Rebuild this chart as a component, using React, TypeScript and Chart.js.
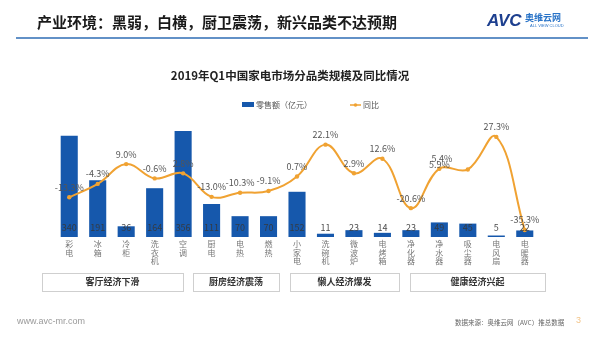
import React, { useEffect, useRef } from "react";
import { Chart, registerables } from "chart.js";

Chart.register(...registerables);

const categories = ["彩电", "冰箱", "冷柜", "洗衣机", "空调", "厨电", "电热", "燃热", "小家电", "洗碗机", "微波炉", "电烤箱", "净化器", "净水器", "吸尘器", "电风扇", "电暖器"];
const salesValues = [340, 191, 36, 164, 356, 111, 70, 70, 152, 11, 23, 14, 23, 49, 45, 5, 22];
const yoyValues = [-13.3, -4.3, 9.0, -0.6, 2.8, -13.0, -10.3, -9.1, 0.7, 22.1, 2.9, 12.6, -20.6, 5.9, 5.4, 27.3, -35.3];
const groupLabels = ["客厅经济下滑", "厨房经济震荡", "懒人经济爆发", "健康经济兴起"];

const BAR_COLOR = "#1658AC";
const LINE_COLOR = "#F0A232";
const CJK = '"Noto Sans CJK SC", "Noto Sans", sans-serif';
// label nudges for overlapping line labels (style only)
const LABEL_NUDGE: Record<number, [number, number]> = { 13: [0, 6], 14: [-26, -1] };
// group box extents (x px) — layout
const GROUP_BOXES: [number, number][] = [[42, 183], [193, 279], [290, 399], [410, 545]];

const decor = {
  id: "decor",
  beforeDraw(chart: any) {
    const ctx = chart.ctx;
    ctx.save();
    ctx.fillStyle = "#ffffff";
    ctx.fillRect(0, 0, chart.width, chart.height);
    ctx.restore();
  },
  afterDatasetsDraw(chart: any) {
    const ctx = chart.ctx;
    const x = chart.scales.x;
    const y = chart.scales.y;
    const base = y.getPixelForValue(0);
    ctx.save();
    ctx.textAlign = "center";
    ctx.textBaseline = "middle";
    // bar value labels
    ctx.font = `9px ${CJK}`;
    ctx.fillStyle = "rgba(55,55,55,0.9)";
    salesValues.forEach((v, i) => {
      ctx.fillText(String(v), x.getPixelForValue(i), base - 9);
    });
    // line labels
    const meta = chart.getDatasetMeta(1);
    ctx.fillStyle = "#555555";
    meta.data.forEach((pt: any, i: number) => {
      const n = LABEL_NUDGE[i] || [0, 0];
      ctx.fillText(yoyValues[i].toFixed(1) + "%", pt.x + n[0], pt.y - 10 + n[1]);
    });
    // category labels (vertical)
    ctx.font = `8px ${CJK}`;
    ctx.fillStyle = "#777777";
    categories.forEach((c, i) => {
      const cx = x.getPixelForValue(i);
      [...c].forEach((ch, k) => ctx.fillText(ch, cx, 244 + k * 8.6));
    });
    ctx.restore();
  },
  afterDraw(chart: any) {
    const ctx = chart.ctx;
    ctx.save();
    ctx.textBaseline = "middle";
    // page title
    ctx.fillStyle = "#1a1a1a";
    ctx.font = `bold 15px ${CJK}`;
    ctx.textAlign = "left";
    ctx.fillText("产业环境：黑弱，白横，厨卫震荡，新兴品类不达预期", 37, 22);
    // rule
    ctx.strokeStyle = "#2E6DB4";
    ctx.lineWidth = 1.5;
    ctx.beginPath();
    ctx.moveTo(16, 38);
    ctx.lineTo(588, 38);
    ctx.stroke();
    // logo
    ctx.fillStyle = "#1D3F8F";
    ctx.font = `italic bold 17px "Liberation Sans", sans-serif`;
    ctx.fillText("AVC", 487, 21);
    ctx.fillStyle = "#2A74C8";
    ctx.font = `bold 9px ${CJK}`;
    ctx.fillText("奥维云网", 525, 18);
    ctx.font = `4px "Liberation Sans", sans-serif`;
    ctx.fillText("ALL VIEW CLOUD", 530, 26);
    // chart title
    ctx.fillStyle = "#222222";
    ctx.font = `bold 11.5px ${CJK}`;
    ctx.textAlign = "center";
    ctx.fillText("2019年Q1中国家电市场分品类规模及同比情况", 290, 76);
    // legend
    ctx.fillStyle = BAR_COLOR;
    ctx.fillRect(242, 102, 12, 5);
    ctx.fillStyle = "#555555";
    ctx.font = `8px ${CJK}`;
    ctx.textAlign = "left";
    ctx.fillText("零售额（亿元）", 256, 105);
    ctx.strokeStyle = LINE_COLOR;
    ctx.lineWidth = 1.5;
    ctx.beginPath();
    ctx.moveTo(350, 105);
    ctx.lineTo(361, 105);
    ctx.stroke();
    ctx.fillStyle = LINE_COLOR;
    ctx.beginPath();
    ctx.arc(355.5, 105, 1.8, 0, Math.PI * 2);
    ctx.fill();
    ctx.fillStyle = "#555555";
    ctx.fillText("同比", 363, 105);
    // group boxes
    ctx.strokeStyle = "#cfcfcf";
    ctx.lineWidth = 1;
    ctx.textAlign = "center";
    ctx.font = `bold 9px ${CJK}`;
    GROUP_BOXES.forEach((b, i) => {
      ctx.strokeRect(b[0] + 0.5, 273.5, b[1] - b[0], 18);
      ctx.fillStyle = "#333333";
      ctx.fillText(groupLabels[i], (b[0] + b[1]) / 2, 282);
    });
    // footer
    ctx.textAlign = "left";
    ctx.fillStyle = "#9a9a9a";
    ctx.font = `9px "Liberation Sans", sans-serif`;
    ctx.fillText("www.avc-mr.com", 17, 322);
    ctx.fillStyle = "#666666";
    ctx.font = `6.5px ${CJK}`;
    ctx.fillText("数据来源：奥维云网（AVC）推总数据", 455, 323);
    ctx.fillStyle = "#F3C58A";
    ctx.font = `9px "Liberation Sans", sans-serif`;
    ctx.fillText("3", 576, 321);
    ctx.restore();
  },
};

export default function App() {
  const ref = useRef<HTMLCanvasElement | null>(null);
  useEffect(() => {
    if (!ref.current) return;
    const chart = new Chart(ref.current, {
      type: "bar",
      data: {
        labels: categories,
        datasets: [
          {
            type: "bar",
            label: "零售额（亿元）",
            data: salesValues,
            backgroundColor: BAR_COLOR,
            yAxisID: "y",
            barPercentage: 0.6,
            categoryPercentage: 1,
            order: 2,
          },
          {
            type: "line",
            label: "同比",
            data: yoyValues,
            borderColor: LINE_COLOR,
            backgroundColor: LINE_COLOR,
            borderWidth: 2,
            pointRadius: 2.2,
            pointBackgroundColor: LINE_COLOR,
            pointBorderWidth: 0,
            tension: 0.4,
            yAxisID: "y1",
            order: 1,
          } as any,
        ],
      },
      options: {
        animation: false,
        responsive: false,
        devicePixelRatio: 1,
        layout: { padding: { left: 55, right: 61, top: 118, bottom: 101 } },
        plugins: { legend: { display: false }, tooltip: { enabled: false }, title: { display: false } },
        scales: {
          x: { display: false, offset: true },
          y: { display: false, min: 0, max: 400 },
          y1: { display: false, min: -40, max: 40, position: "right" },
        },
      },
      plugins: [decor],
    });
    return () => chart.destroy();
  }, []);
  return (
    <div style={{ position: "fixed", left: 0, top: 0, width: 600, height: 338 }}>
      <canvas ref={ref} width={600} height={338} style={{ width: 600, height: 338 }} />
    </div>
  );
}
